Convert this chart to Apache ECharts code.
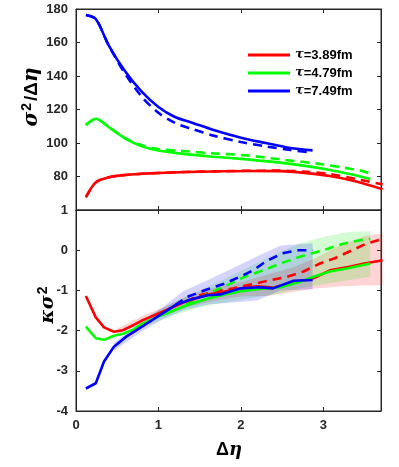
<!DOCTYPE html>
<html>
<head>
<meta charset="utf-8">
<title>sigma kappa</title>
<script src="https://cdn.jsdelivr.net/npm/echarts@6/dist/echarts.min.js"></script>
</head>
<body style="margin:0">
<div id="container" style="width:399px;height:467px"></div>
<script>
var names = ['τ=3.89fm', 'τ=4.79fm', 'τ=7.49fm'];
var colors = ['#ff0000', '#00ff00', '#0000ff'];
var bandColors = ['rgba(255,0,0,0.17)', 'rgba(0,230,0,0.17)', 'rgba(0,0,255,0.17)'];
var xTicks = [0, 1, 2, 3];
var sigTicks = [60, 80, 100, 120, 140, 160, 180];
var kapTicks = [-4, -3, -2, -1, 0, 1];

// top panel: sigma^2 / d-eta
var sigRed = [[0.12,67.6],[0.24,76.5],[0.4,79.5],[0.6,80.9],[0.8,81.6],[1.0,82.1],[1.33,82.7],[1.67,83],[2.07,83.3],[2.48,83.2],[2.8,82],[3.08,80.3],[3.4,77],[3.72,72.4]];
var sigRedDash = [[0.12,67.6],[0.24,76.5],[0.4,79.5],[0.6,80.9],[0.8,81.6],[1.0,82.1],[1.33,82.7],[1.67,83.1],[2.07,83.4],[2.48,83.5],[2.8,82.8],[3.08,81.5],[3.4,78.5],[3.72,75.3]];
var sigGreen = [[0.12,110.7],[0.24,114.5],[0.4,109.4],[0.6,102.6],[0.8,98],[1.0,95.5],[1.3,93.5],[1.67,91.8],[2.07,90.2],[2.48,88.3],[2.8,86.2],[3.08,83.9],[3.35,81.2],[3.57,78.5]];
var sigGreenDash = [[0.12,110.7],[0.24,114.5],[0.4,109.4],[0.6,102.8],[0.8,98.6],[1.0,96.4],[1.3,95.2],[1.67,93.8],[2.07,92.6],[2.48,90.2],[3.0,87.2],[3.45,83.5],[3.57,81.8]];
var sigBlue = [[0.12,176.4],[0.24,174],[0.4,158],[0.6,142.5],[0.8,130.5],[1.0,121.5],[1.2,115.5],[1.4,112.3],[1.67,107.8],[2.0,103.2],[2.3,100],[2.6,97],[2.87,95.6]];
var sigBlueDash = [[0.12,176.4],[0.24,174],[0.4,158],[0.6,141],[0.8,127.5],[1.0,118],[1.2,112],[1.4,108.5],[1.67,104.4],[2.0,100.6],[2.3,98],[2.6,95.8],[2.87,94.3]];

// bottom panel: kappa sigma^2
var kapRed = [[0.12,-1.14],[0.24,-1.67],[0.34,-1.92],[0.46,-2.03],[0.57,-1.99],[0.7,-1.86],[0.81,-1.74],[1.05,-1.53],[1.33,-1.28],[1.6,-1.1],[1.8,-1.03],[2.0,-0.95],[2.2,-0.9],[2.4,-0.93],[2.6,-0.82],[2.88,-0.7],[3.08,-0.5],[3.3,-0.42],[3.5,-0.33],[3.72,-0.25]];
var kapRedDash = [[1.33,-1.28],[1.5,-1.12],[1.7,-1.02],[1.91,-0.95],[2.1,-0.86],[2.33,-0.76],[2.56,-0.66],[2.76,-0.53],[2.96,-0.33],[3.14,-0.2],[3.35,0.0],[3.53,0.17],[3.72,0.28]];
var kapGreen = [[0.12,-1.9],[0.24,-2.19],[0.34,-2.23],[0.46,-2.13],[0.57,-2.08],[0.7,-1.97],[0.81,-1.82],[1.05,-1.61],[1.33,-1.38],[1.6,-1.2],[1.8,-1.1],[2.0,-1.02],[2.2,-0.97],[2.48,-0.92],[2.7,-0.8],[2.88,-0.66],[3.08,-0.53],[3.3,-0.45],[3.57,-0.33]];
var kapGreenDash = [[1.33,-1.34],[1.6,-1.08],[1.8,-0.9],[2.07,-0.64],[2.3,-0.48],[2.48,-0.33],[2.72,-0.16],[3.0,0.0],[3.24,0.16],[3.45,0.25],[3.57,0.28]];
var kapBlue = [[0.12,-3.44],[0.24,-3.31],[0.34,-2.77],[0.46,-2.4],[0.61,-2.15],[0.81,-1.89],[1.05,-1.57],[1.21,-1.36],[1.4,-1.22],[1.6,-1.12],[1.75,-1.1],[1.99,-0.95],[2.23,-0.92],[2.39,-0.95],[2.64,-0.76],[2.87,-0.74]];
var kapBlueDash = [[1.05,-1.57],[1.21,-1.36],[1.34,-1.17],[1.57,-0.99],[1.79,-0.84],[1.99,-0.66],[2.15,-0.5],[2.31,-0.27],[2.5,-0.08],[2.7,0.0],[2.87,0.0]];

// shaded error bands [x, low, high]
var bandRed = [[0.5,-2.1,-1.95],[0.8,-1.82,-1.64],[1.1,-1.6,-1.38],[1.4,-1.38,-1.1],[1.7,-1.25,-0.92],[2.0,-1.15,-0.8],[2.3,-1.14,-0.62],[2.6,-1.05,-0.45],[2.9,-0.95,-0.2],[3.2,-0.9,0.12],[3.5,-0.88,0.35],[3.72,-0.87,0.42]];
var bandGreen = [[0.9,-1.85,-1.62],[1.2,-1.62,-1.28],[1.5,-1.42,-1.0],[1.8,-1.3,-0.72],[2.1,-1.2,-0.42],[2.4,-1.1,-0.12],[2.72,-0.95,0.17],[3.0,-0.85,0.33],[3.3,-0.75,0.45],[3.57,-0.66,0.48]];
var bandBlue = [[0.46,-2.5,-2.3],[0.8,-2.02,-1.76],[1.05,-1.72,-1.42],[1.3,-1.5,-1.02],[1.6,-1.35,-0.74],[1.9,-1.3,-0.45],[2.2,-1.25,-0.15],[2.48,-1.0,0.12],[2.87,-0.97,0.17]];

var dom = document.getElementById('container');
var myChart = echarts.init(dom);

var axisCol = '#262626';
var labelStyle = { fontSize: 13, fontWeight: 'bold', color: axisCol, fontFamily: 'Liberation Sans' };

function xAx(grid, pos, showLabel) {
  return {
    type: 'value', gridIndex: grid, position: pos, min: 0, max: 3.7, interval: 1,
    axisLine: { show: true, onZero: false, lineStyle: { color: axisCol } },
    axisTick: { show: true, inside: true, length: 4, lineStyle: { color: axisCol } },
    axisLabel: Object.assign({ show: showLabel, margin: 8, showMaxLabel: false }, labelStyle),
    splitLine: { show: false }
  };
}
function yAx(grid, pos, min, max, showLabel, hideMin) {
  return {
    type: 'value', gridIndex: grid, position: pos, min: min, max: max, interval: grid === 0 ? 20 : 1,
    axisLine: { show: true, onZero: false, lineStyle: { color: axisCol } },
    axisTick: { show: true, inside: true, length: 4, lineStyle: { color: axisCol } },
    axisLabel: Object.assign({ show: showLabel, margin: 8, showMinLabel: !hideMin }, labelStyle),
    splitLine: { show: false }
  };
}

function line(name, data, color, dashed, panel) {
  return {
    name: name, type: 'line', data: data,
    xAxisIndex: panel * 2, yAxisIndex: panel * 2,
    showSymbol: false, smooth: panel === 0 ? 0.3 : false, z: dashed ? 3 : 4,
    lineStyle: { color: color, width: 2.6, type: dashed ? [9, 6] : 'solid' },
    itemStyle: { color: color }
  };
}

function band(data, fill) {
  return {
    type: 'custom', xAxisIndex: 2, yAxisIndex: 2, silent: true, z: 1,
    data: [[1, -1]],
    renderItem: function (params, api) {
      var pts = [];
      data.forEach(function (p) { pts.push(api.coord([p[0], p[2]])); });
      data.slice().reverse().forEach(function (p) { pts.push(api.coord([p[0], p[1]])); });
      return { type: 'polygon', shape: { points: pts }, style: { fill: fill } };
    }
  };
}

var greek = { fontFamily: 'DejaVu Serif', fontStyle: 'italic', fontWeight: 'bold' };

var option = {
  animation: false,
  grid: [
    { left: 76, top: 9, width: 305, height: 201, show: true, borderColor: axisCol, borderWidth: 1 },
    { left: 76, top: 210, width: 305, height: 201, show: true, borderColor: axisCol, borderWidth: 1 }
  ],
  xAxis: [xAx(0, 'bottom', false), xAx(0, 'top', false), xAx(1, 'bottom', true), xAx(1, 'top', false)],
  yAxis: [yAx(0, 'left', 60, 180, true, true), yAx(0, 'right', 60, 180, false, false),
          yAx(1, 'left', -4, 1, true, false), yAx(1, 'right', -4, 1, false, false)],
  legend: {
    data: names, orient: 'vertical', left: 248, top: 48, padding: 0,
    itemWidth: 42, itemHeight: 3, itemGap: 4, icon: 'rect',
    formatter: function (n) { return '{g|τ}' + n.slice(1); },
    textStyle: {
      fontSize: 13, fontWeight: 'bold', color: '#000', fontFamily: 'Liberation Sans', lineHeight: 14,
      rich: { g: Object.assign({ fontSize: 13, lineHeight: 14, color: '#000' }, greek) }
    }
  },
  graphic: [
    { type: 'text', x: 32, y: 97, rotation: Math.PI / 2,
      style: { text: '{s|σ}{p|2}{n|/Δ}{s|η}', align: 'center', verticalAlign: 'middle', fill: '#000',
        rich: {
          s: Object.assign({ fontSize: 20, lineHeight: 24 }, greek),
          p: { fontSize: 14, fontWeight: 'bold', fontFamily: 'Liberation Sans', verticalAlign: 'top', lineHeight: 24, padding: [0, 2, 10, 1] },
          n: { fontSize: 19, fontWeight: 'bold', fontFamily: 'Liberation Sans', lineHeight: 24 }
        } } },
    { type: 'text', x: 48, y: 305, rotation: Math.PI / 2,
      style: { text: '{s|κσ}{p|2}', align: 'center', verticalAlign: 'middle', fill: '#000',
        rich: {
          s: Object.assign({ fontSize: 19, lineHeight: 24 }, greek),
          p: { fontSize: 14, fontWeight: 'bold', fontFamily: 'Liberation Sans', lineHeight: 24, padding: [0, 0, 10, 1] }
        } } },
    { type: 'text', x: 229, y: 450,
      style: { text: '{n|Δ}{s|η}', align: 'center', verticalAlign: 'middle', fill: '#000',
        rich: {
          s: Object.assign({ fontSize: 18 }, greek),
          n: { fontSize: 18, fontWeight: 'bold', fontFamily: 'Liberation Sans' }
        } } }
  ],
  series: [
    line(names[0], sigRed, colors[0], false, 0),
    line(names[0] + ' ', sigRedDash, colors[0], true, 0),
    line(names[1], sigGreen, colors[1], false, 0),
    line(names[1] + ' ', sigGreenDash, colors[1], true, 0),
    line(names[2], sigBlue, colors[2], false, 0),
    line(names[2] + ' ', sigBlueDash, colors[2], true, 0),
    band(bandRed, bandColors[0]),
    band(bandGreen, bandColors[1]),
    band(bandBlue, bandColors[2]),
    line(names[0] + '  ', kapRed, colors[0], false, 1),
    line(names[0] + '   ', kapRedDash, colors[0], true, 1),
    line(names[1] + '  ', kapGreen, colors[1], false, 1),
    line(names[1] + '   ', kapGreenDash, colors[1], true, 1),
    line(names[2] + '  ', kapBlue, colors[2], false, 1),
    line(names[2] + '   ', kapBlueDash, colors[2], true, 1)
  ]
};
myChart.setOption(option);
</script>
</body>
</html>
